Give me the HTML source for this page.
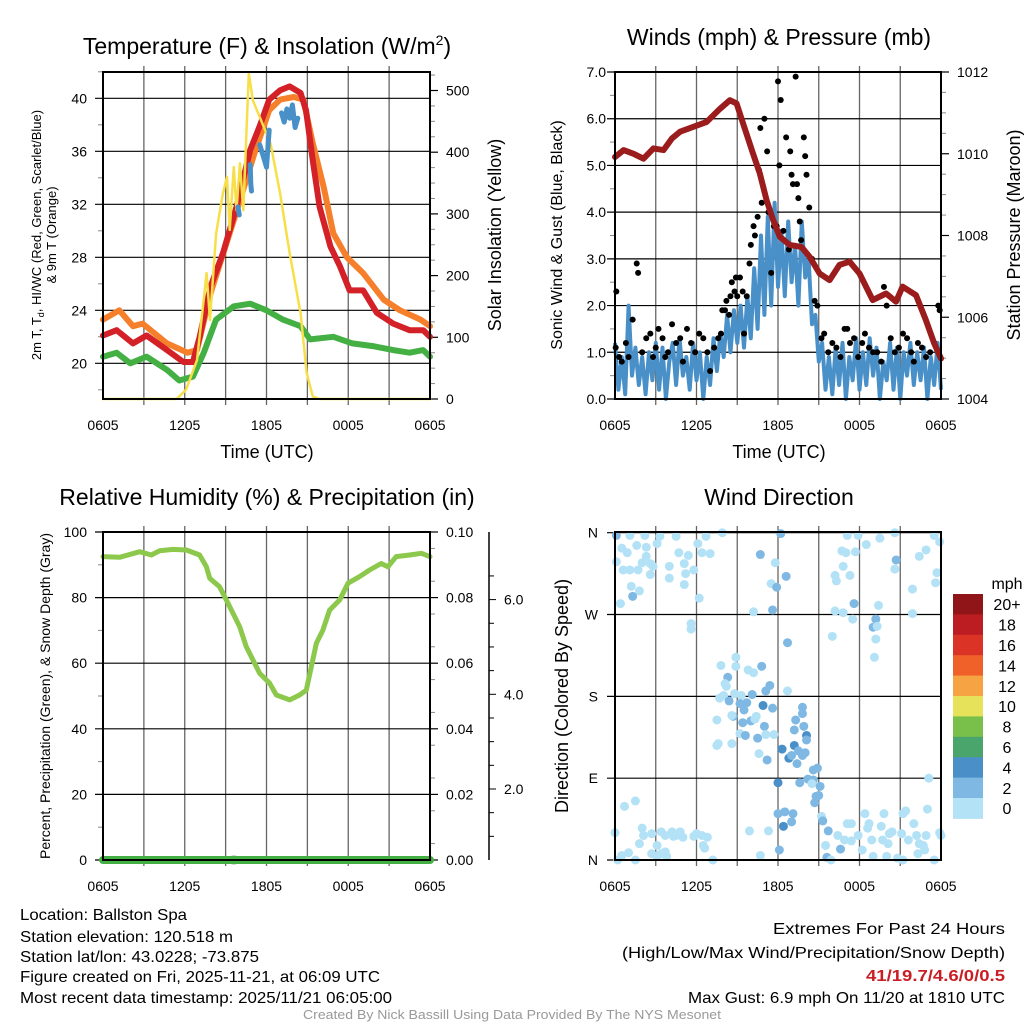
<!DOCTYPE html>
<html><head><meta charset="utf-8"><style>
html,body{margin:0;padding:0;background:#fff;}
svg{display:block;font-family:"Liberation Sans",sans-serif;}
</style></head><body>
<svg id="chart" width="1024" height="1024" viewBox="0 0 1024 1024" xmlns="http://www.w3.org/2000/svg">
<rect width="1024" height="1024" fill="#fff"/>
<g id="layer"></g>
<text x="267" y="54" font-size="23" text-anchor="middle">Temperature (F) &amp; Insolation (W/m<tspan font-size="14" dy="-9">2</tspan><tspan dy="9">)</tspan></text>
<text x="779" y="45" font-size="23" text-anchor="middle">Winds (mph) &amp; Pressure (mb)</text>
<text x="267" y="505" font-size="23" text-anchor="middle">Relative Humidity (%) &amp; Precipitation (in)</text>
<text x="779" y="505" font-size="23" text-anchor="middle">Wind Direction</text>
<text x="267" y="458" font-size="18" text-anchor="middle">Time (UTC)</text>
<text x="779" y="458" font-size="18" text-anchor="middle">Time (UTC)</text>
<text transform="translate(41,235) rotate(-90)" font-size="13" text-anchor="middle">2m T, T<tspan font-size="9" dy="3">d</tspan><tspan dy="-3">, HI/WC (Red, Green, Scarlet/Blue)</tspan></text>
<text transform="translate(56,235) rotate(-90)" font-size="13" text-anchor="middle">&amp; 9m T (Orange)</text>
<text transform="translate(501,235) rotate(-90)" font-size="18" text-anchor="middle">Solar Insolation (Yellow)</text>
<text transform="translate(562,235) rotate(-90)" font-size="16" text-anchor="middle">Sonic Wind &amp; Gust (Blue, Black)</text>
<text transform="translate(1020,235) rotate(-90)" font-size="18" text-anchor="middle">Station Pressure (Maroon)</text>
<text transform="translate(50,696) rotate(-90)" font-size="14" text-anchor="middle">Percent, Precipitation (Green), &amp; Snow Depth (Gray)</text>
<text transform="translate(568,696) rotate(-90)" font-size="18" text-anchor="middle">Direction (Colored By Speed)</text>
<g font-size="16">
<text x="20" y="920" textLength="167" lengthAdjust="spacingAndGlyphs">Location: Ballston Spa</text>
<text x="20" y="942" textLength="213" lengthAdjust="spacingAndGlyphs">Station elevation: 120.518 m</text>
<text x="20" y="962" textLength="239" lengthAdjust="spacingAndGlyphs">Station lat/lon: 43.0228; -73.875</text>
<text x="20" y="982" textLength="360" lengthAdjust="spacingAndGlyphs">Figure created on Fri, 2025-11-21, at 06:09 UTC</text>
<text x="20" y="1003" textLength="372" lengthAdjust="spacingAndGlyphs">Most recent data timestamp: 2025/11/21 06:05:00</text>
</g>
<g font-size="16">
<text x="773" y="934" textLength="232" lengthAdjust="spacingAndGlyphs">Extremes For Past 24 Hours</text>
<text x="622" y="958" textLength="383" lengthAdjust="spacingAndGlyphs">(High/Low/Max Wind/Precipitation/Snow Depth)</text>
<text x="866" y="981" textLength="139" lengthAdjust="spacingAndGlyphs" fill="#c81e24" font-weight="bold">41/19.7/4.6/0/0.5</text>
<text x="688" y="1003" textLength="317" lengthAdjust="spacingAndGlyphs">Max Gust: 6.9 mph On 11/20 at 1810 UTC</text>
</g>
<text x="303" y="1019" font-size="13" textLength="418" lengthAdjust="spacingAndGlyphs" fill="#999">Created By Nick Bassill Using Data Provided By The NYS Mesonet</text>
</svg>
<script>
// ---- Temperature panel data (hours since 0605 UTC) ----
const redT=[0,1.0,2.2,3.2,4.7,5.9,6.6,7.1,7.9,8.8,9.8,10.8,11.5,12.2,13.0,13.7,14.5,14.9,15.4,15.9,16.7,17.4,18.1,19.1,20.1,21.3,22.5,23.5,24];
const redV=[22.1,22.5,21.5,22.1,21.0,20.1,20.1,22.0,25.8,28.3,31.8,36.1,37.9,39.9,40.6,40.9,40.4,39.1,35.3,31.8,28.8,27.3,25.5,25.5,23.8,23.0,22.5,22.5,22.0];
const orgT=[0,1.2,2.2,2.9,4.7,6.2,6.9,7.9,9.6,11.1,12.2,13.0,14.0,14.7,15.4,16.2,16.9,17.9,19.1,20.6,21.8,23.3,24];
const orgV=[23.3,24.0,22.8,23.0,21.5,20.8,21.0,25.3,30.8,35.8,39.1,39.9,40.1,39.9,36.6,33.3,29.8,28.0,26.8,24.8,24.0,23.3,22.8];
const grnT=[0,1,2,3.2,4.7,5.6,6.6,7.4,8.3,9.6,10.8,12.0,13.2,14.5,15.2,16.9,18.3,19.8,21.3,22.5,23.5,24];
const grnV=[20.5,20.8,20.0,20.5,19.5,18.7,19.0,20.8,23.3,24.3,24.5,24.0,23.3,22.8,21.8,22.0,21.5,21.3,21.0,20.8,21.0,20.5];
const wcT=[9.9,10.0,null,10.8,10.85,10.9,null,11.5,11.8,12.0,12.2,null,13.1,13.3,13.5,13.7,13.9,14.1,14.3];
const wcV=[31.8,31.2,null,35.0,33.5,33.0,null,36.5,35.5,34.8,37.6,null,38.9,38.2,39.2,38.5,39.5,37.8,38.5];
const solT=[0,5.4,6.1,6.9,7.6,7.85,8.3,8.8,9.1,9.3,9.6,9.8,10.05,10.3,10.7,11.0,11.5,12.3,13.0,13.7,14.5,14.95,15.4,15.9,24];
const solV=[0,0,15,63,204,128,268,333,360,274,376,306,382,306,528,484,457,414,333,236,139,42,4,0,0];
const tempTicks=[20,24,28,32,36,40];
const solTicks=[0,100,200,300,400,500];
const timeLabels=["0605","1205","1805","0005","0605"];
// ---- Wind panel data ----
const presT=[0,0.63,1.37,2.1,2.83,3.57,4.18,4.79,5.77,6.75,7.73,8.46,8.95,9.43,10.17,10.66,11.15,11.64,12.13,12.86,13.72,14.33,15.06,15.8,16.53,17.27,18.0,18.97,19.96,20.69,21.17,22.16,22.89,23.5,24];
const presV=[1009.92,1010.09,1010.0,1009.88,1010.13,1010.09,1010.37,1010.54,1010.66,1010.78,1011.1,1011.31,1011.23,1010.74,1010.0,1009.52,1008.87,1008.38,1007.97,1007.77,1007.72,1007.48,1007.07,1006.91,1007.28,1007.36,1007.07,1006.42,1006.58,1006.38,1006.75,1006.54,1005.93,1005.36,1004.99];
const windStep=0.25;
const windV=[1.2,0.2,0.9,0.1,2.0,0.5,1.1,0.3,0.9, 0.1,1.0,0.4,1.2,0.2,1.1,0.0,0.8, 1.2,0.3,1.3,0.5,0.9,0.2,1.2,0.4, 1.0,0.0,0.9,0.3,1.3,0.6,1.4,0.9, 1.8,1.0,1.9,1.2,2.0,1.1,2.2,1.3, 2.8,1.5,3.5,1.8,3.9,2.0,4.2,2.4, 3.6,2.2,3.8,2.5,3.3,2.0,3.8,2.6, 3.0,1.6,1.8,0.8,1.2,0.2,0.9,0.1, 1.1,0.3,1.2,0.0,0.9,0.4,1.3,0.2, 1.0,0.3,1.3,0.5,1.1,0.0,0.8,0.4, 1.2,0.2,1.1,0.0,1.0,0.5,1.2,0.3, 1.0,0.4,1.1,0.0,0.9,0.3,1.2,0.2];
const gustT=[0.05,0.1,0.3,0.5,0.8,1.0,1.3,1.6,1.7,2.0,2.3,2.6,2.8,3.0,3.2,3.5,3.7,3.9,4.2,4.5,4.8,5.0,5.3,5.6,5.9,6.2,6.5,6.8,7.0,7.3,7.6,7.8,7.9,8.1,8.2,8.4,8.5,8.6,8.8,8.9,9.0,9.2,9.4,9.5,9.7,9.9,10.0,10.2,10.3,10.5,10.6,10.7,10.8,11.0,11.2,11.3,11.5,11.7,11.9,12.0,12.1,12.2,12.4,12.6,12.8,12.9,13.0,13.1,13.3,13.4,13.5,13.6,13.7,13.9,14.0,14.1,14.3,14.5,14.7,14.9,15.2,15.4,15.7,16.0,16.3,16.6,16.9,17.1,17.3,17.6,17.9,18.2,18.4,18.7,19.0,19.3,19.6,19.8,20.0,20.3,20.6,20.9,21.2,21.5,21.8,22.0,22.3,22.6,22.9,23.2,23.5,23.8,23.9];
const gustV=[1.1,2.3,0.9,0.8,1.2,0.9,1.7,2.9,2.7,1.0,1.3,1.4,0.9,1.1,1.5,1.3,0.9,1.0,1.6,1.2,1.3,0.8,1.5,1.2,1.0,1.4,1.3,1.0,0.6,1.1,1.3,1.4,1.9,1.9,2.1,1.8,2.2,2.5,2.3,2.6,2.2,2.6,2.3,1.4,2.2,2.9,3.3,3.7,3.5,3.9,4.9,5.8,4.2,6.0,5.3,4.0,2.7,3.7,3.7,6.8,5.0,6.4,3.6,5.6,3.2,5.3,4.8,4.6,6.9,4.6,4.3,3.8,3.4,5.6,5.2,4.8,4.1,3.0,2.1,2.0,1.3,1.4,1.0,1.2,1.1,0.9,1.5,1.5,1.2,1.3,0.9,1.2,1.4,1.1,1.0,1.0,0.8,2.4,2.0,1.3,1.0,1.1,1.4,1.3,1.0,0.8,1.2,1.1,0.9,1.0,1.2,2.0,1.9];
const windTicks=[0,1,2,3,4,5,6,7];
const presTicks=[1004,1006,1008,1010,1012];
// ---- Humidity panel data ----
const rhT=[0,1.22,2.69,3.55,4.16,5.14,6.12,7.09,7.59,7.83,8.56,9.05,9.54,10.03,10.52,11.0,11.5,12.23,12.72,13.7,14.43,14.92,15.29,15.66,16.14,16.63,17.37,17.98,18.83,19.57,20.42,20.91,21.52,22.5,23.36,24];
const rhV=[92.5,92.3,94.0,93.0,94.3,94.7,94.5,93.0,89.4,85.9,83.3,79.3,75.2,71.1,65.0,61.0,56.9,53.9,50.3,48.8,50.3,51.8,58.9,66.1,70.1,76.2,79.3,84.4,86.4,88.4,90.4,89.4,92.5,93.0,93.5,92.5];
const precipT=[0,24];
const precipV=[0,0];
const snowT=[9.6];
const snowV=[0];
const rhTicks=[0,20,40,60,80,100];
const precipTicks=["0.00","0.02","0.04","0.06","0.08","0.10"];
const snowTicks=[2,4,6];
// ---- Wind direction data ----
const dirT=[0.1,1.1,2.2,3.3,4.5,6.7,7.9,12.2,17.1,17.9,19.5,20.6,23.5,23.9,0.1,0.5,0.9,1.6,2.3,3.1,4.7,5.4,6.1,6.4,7.0,0.6,1.1,1.7,2.0,2.6,2.8,2.3,2.6,4.0,4.0,5.1,5.2,5.8,5.1,6.2,1.2,1.8,1.3,0.4,5.6,5.6,10.7,11.8,12.6,11.5,11.9,11.6,10.2,12.7,16.7,17.0,17.7,18.5,16.8,16.2,16.3,17.3,20.7,20.6,22.4,22.9,23.7,23.6,21.9,17.6,16.2,16.8,19.4,21.9,17.5,19.2,19.0,19.3,19.2,19.1,16.0,
7.8,8.9,8.9,8.3,8.1,8.2,9.8,10.2,10.8,11.4,11.1,12.7,7.7,8.0,8.8,9.3,8.4,9.2,9.7,10.1,10.9,11.6,9.5,8.7,8.6,7.5,10.4,9.4,10.0,11.0,10.3,9.2,9.6,10.5,11.1,11.7,7.6,7.5,8.6,10.6,11.2,12.3,13.2,12.8,13.0,13.5,13.8,14.0,13.4,13.2,13.3,13.8,13.8,13.9,14.1,14.1,14.6,14.9,14.2,14.6,14.5,13.6,12.0,15.1,14.8,15.0,14.7,
1.5,0.7,0,2.0,2.1,1.8,2.7,3.1,3.4,3.7,4.2,4.3,4.5,4.8,5.0,5.8,6.0,6.4,6.8,6.5,6.6,2.7,3.4,3.7,3.8,1.0,0.5,0.2,1.5,3.1,7.2,9.9,10.7,11.3,12.0,12.5,13.1,12.4,13.0,12.1,15.2,15.3,15.7,15.5,15.6,15.9,16.4,16.6,16.9,17.4,17.1,17.4,17.9,18.2,18.4,18.7,18.9,18.6,19.6,19.8,19.7,20.1,20.2,20.4,21.1,21.2,21.4,21.6,22.0,22.2,22.4,22.7,22.9,23.0,23.1,22.8,24.0,23.9,20.0,20.8,21.2,23.5,22.3,19.0];
const dirDeg=[357,357,357,356,356,356,360,359,357,357,354,360,357,350,328,343,338,346,344,348,338,335,348,338,337,319,319,319,327,326,323,334,314,310,323,326,315,319,303,288,301,296,290,282,260,254,336,327,312,304,300,275,273,239,340,338,339,347,323,313,307,313,330,320,334,341,316,305,298,282,274,272,280,271,265,265,256,257,243,223,246,
214,223,213,201,194,191,209,206,213,192,186,186,178,181,183,181,175,172,173,182,170,167,165,158,159,154,158,151,153,147,155,139,137,134,138,138,128,126,128,117,110,122,126,112,115,120,115,118,106,143,154,161,168,147,137,132,99,101,89,88,84,85,85,81,70,71,63,
65,59,30,35,27,18,29,16,31,27,31,26,27,31,25,26,29,27,25,16,13,7,7,9,4,8,5,0,0,4,0,32,5,32,51,53,51,37,42,11,48,43,32,16,3,0,27,12,22,21,40,40,27,11,51,40,22,35,37,51,22,18,29,31,29,51,54,22,40,27,18,16,27,56,90,11,27,30,4,2,0,0,7,4];
const dirSpd=[3,1,1,1,1,1,1,3,1,1,1,1,1,1,1,1,1,1,1,1,1,1,1,1,1,1,1,1,1,1,1,1,1,1,1,1,1,1,1,1,1,1,3,1,1,1,3,1,3,1,3,3,1,3,1,1,1,1,1,1,1,1,3,1,1,1,1,1,1,3,1,1,1,1,1,3,3,1,1,1,1,
1,1,1,3,1,1,1,1,3,3,3,1,1,1,1,1,3,3,3,3,4.5,3,3,3,1,1,1,3,3,3,1,1,3,3,1,1,1,1,1,1,3,4.5,4.5,4.5,3,3,3,3,3,3,3,3,3,3,4.5,3,3,3,3,3,1,3,4.5,3,3,3,3,
1,1,1,1,1,1,1,1,1,1,1,1,1,1,1,1,1,1,1,1,1,1,1,1,1,1,1,1,1,1,1,1,1,1,3,3,3,4.5,3,3,1,3,3,1,3,1,1,3,1,1,1,1,1,1,1,1,1,1,1,1,1,1,1,1,1,1,1,1,1,1,1,1,1,1,1,1,1,1,1,1,1,1,1,1];
const dirTicks=["N","E","S","W","N"];
const cbLabels=["20+","18","16","14","12","10","8","6","4","2","0"];
const cbColors=["#8f1518","#bb1d23","#dc3327","#f0612a","#f6a443","#e6e25a","#79c04b","#4aa56d","#4a8fc7","#7fb9e3","#b3e2f7"];

const NS="http://www.w3.org/2000/svg";
const layer=document.getElementById('layer');
function mk(tag,attrs,parent){const e=document.createElementNS(NS,tag);for(const k in attrs)e.setAttribute(k,attrs[k]);(parent||layer).appendChild(e);return e;}
function linScale(d0,d1,r0,r1){return v=>r0+(v-d0)*(r1-r0)/(d1-d0);}
function pathFrom(ts,vs,xf,yf){let d="",pen=false;for(let i=0;i<ts.length;i++){if(ts[i]===null||vs[i]===null){pen=false;continue;}d+=(pen?"L":"M")+xf(ts[i]).toFixed(1)+" "+yf(vs[i]).toFixed(1);pen=true;}return d;}

function panel(L,R,T,B,name){
  const g=mk('g',{});
  
  
  const xf=linScale(0,24,L,R);
  for(let h=3;h<24;h+=3){const l=mk('line',{x1:xf(h),x2:xf(h),y1:T-6,y2:B+6,stroke:'#666','stroke-width':1.3},g);
    
    }
  for(let i=0;i<timeLabels.length;i++){const t=mk('text',{x:xf(i*6),y:B+31,'font-size':14,'text-anchor':'middle'},g);t.textContent=timeLabels[i];
    
    }
  return {g,xf};
}
function frame(L,R,T,B,g){const r=mk('rect',{x:L,y:T,width:R-L,height:B-T,fill:'none',stroke:'#000','stroke-width':2},g);
  
  }
function hgrid(g,ys,L,R,labels,lx,anchor,name){
  ys.forEach((y,i)=>{const l=mk('line',{x1:L-8,x2:R,y1:y,y2:y,stroke:'#000','stroke-width':1.2},g);
    
    
    if(labels){const t=mk('text',{x:lx,y:y+5,'font-size':14,'text-anchor':anchor},g);t.textContent=labels[i];
      
      }});
}
function rticks(g,ys,R,labels,name,minor){
  ys.forEach((y,i)=>{mk('line',{x1:R,x2:R+8,y1:y,y2:y,stroke:'#000','stroke-width':1.2},g);
    const t=mk('text',{x:R+16,y:y+5,'font-size':14},g);t.textContent=labels[i];
    
    });
  (minor||[]).forEach(y=>mk('line',{x1:R,x2:R+5,y1:y,y2:y,stroke:'#888','stroke-width':1},g));
}

// ===== Panel 1: Temperature =====
{const L=103,R=430,T=72,B=399;const {g,xf}=panel(L,R,T,B,'temperature');
 const yT=linScale(40,20,98.3,363.3), yS=linScale(0,500,399,90.5);
 hgrid(g,tempTicks.map(yT),L,R,tempTicks,87,'end','temperature');
 for(let v=18;v<=42;v+=2){if(v%4)mk('line',{x1:L-5,x2:L,y1:yT(v),y2:yT(v),stroke:'#888'},g);}
 const minor=[];for(let v=25;v<530;v+=25){if(v%100)minor.push(yS(v));}
 rticks(g,solTicks.map(yS),R,solTicks,'solar',minor);
 const s=[[solT,solV,yS,'#f7df4a',2.5,'solar-insolation-line'],[grnT,grnV,yT,'#44b044',6,'dewpoint-line'],[orgT,orgV,yT,'#f57f2a',6,'temp-9m-line'],[redT,redV,yT,'#d42027',6,'temp-2m-line'],[wcT,wcV,yT,'#4a90c8',5,'wind-chill-line']];
 const order=[1,2,3,0,4];
 order.forEach(i=>{const [ts,vs,yf,c,w,n]=s[i];const p=mk('path',{d:pathFrom(ts,vs,xf,yf),fill:'none',stroke:c,'stroke-width':w,'stroke-linejoin':'round','stroke-linecap':'round'},g);
   
   });
 frame(L,R,T,B,g);}

// ===== Panel 2: Winds =====
{const L=615,R=941,T=72,B=399;const {g,xf}=panel(L,R,T,B,'winds');
 const yW=linScale(0,7,399,72), yP=linScale(1004,1012,399,72);
 hgrid(g,windTicks.map(yW),L,R,windTicks.map(v=>v.toFixed(1)),606,'end','wind');
 for(let v=0.5;v<7;v+=1)mk('line',{x1:L-5,x2:L,y1:yW(v),y2:yW(v),stroke:'#888'},g);
 const minor=[];for(let v=1004.5;v<1012;v+=0.5){if(v%2)minor.push(yP(v));}
 rticks(g,presTicks.map(yP),R,presTicks,'pressure',minor);
 const wt=windV.map((v,i)=>i*windStep);
 const wp=mk('path',{d:pathFrom(wt,windV,xf,yW),fill:'none',stroke:'#4a90c8','stroke-width':4,'stroke-linejoin':'round'},g);
 
 
 gustT.forEach((t,i)=>{const c=mk('circle',{cx:xf(t),cy:yW(gustV[i]),r:3,fill:'#000'},g);
   
   });
 const pp=mk('path',{d:pathFrom(presT,presV,xf,yP),fill:'none',stroke:'#9b1c1c','stroke-width':6,'stroke-linejoin':'round','stroke-linecap':'round'},g);
 
 
 frame(L,R,T,B,g);}

// ===== Panel 3: Humidity =====
{const L=103,R=430,T=532,B=860;const {g,xf}=panel(L,R,T,B,'humidity');
 const yR=linScale(0,100,860,532), yPr=linScale(0,0.1,860,532), ySn=linScale(0,2,883.7,789);
 hgrid(g,rhTicks.map(yR),L,R,rhTicks,87,'end','humidity');
 for(let v=10;v<100;v+=20)mk('line',{x1:L-5,x2:L,y1:yR(v),y2:yR(v),stroke:'#888'},g);
 const minor=[];for(let v=0.005;v<0.1;v+=0.01)minor.push(yPr(v));
 rticks(g,precipTicks.map(v=>yPr(+v)),R,precipTicks,'precip',minor);
 const ax=mk('line',{x1:489,x2:489,y1:532,y2:860,stroke:'#000','stroke-width':1.5},g);
 
 
 for(let v=0.5;v<=6.9;v+=0.5){const y=ySn(v);if(y<532||y>860)continue;mk('line',{x1:489,x2:(v%2===0)?496:494,y1:y,y2:y,stroke:'#000','stroke-width':1},g);}
 snowTicks.forEach(v=>{const t=mk('text',{x:504,y:ySn(v)+5,'font-size':14},g);t.textContent=v.toFixed(1);
   
   });
 snowT.forEach((t,i)=>{const c=mk('circle',{cx:xf(t),cy:yPr(snowV[i]),r:5,fill:'#ccc'},g);
   
   });
 const pr=mk('path',{d:pathFrom(precipT,precipV,xf,yPr),fill:'none',stroke:'#44b044','stroke-width':8,'stroke-linecap':'round'},g);
 
 
 const rh=mk('path',{d:pathFrom(rhT,rhV,xf,yR),fill:'none',stroke:'#8cc84b','stroke-width':5,'stroke-linejoin':'round','stroke-linecap':'round'},g);
 
 
 frame(L,R,T,B,g);}

// ===== Panel 4: Wind direction =====
{const L=615,R=941,T=532,B=860;const {g,xf}=panel(L,R,T,B,'direction');
 const yD=linScale(0,360,860,532.7);
 hgrid(g,[0,90,180,270,360].map(yD),L,R,dirTicks,598,'end','direction');
 function col(s){const idx=10-Math.min(10,Math.floor(s/2));return cbColors[idx];}
 dirT.forEach((t,i)=>{const c=mk('circle',{cx:xf(t),cy:yD(dirDeg[i]),r:4.5,fill:col(dirSpd[i])},g);
   
   });
 frame(L,R,T,B,g);
 const cb=mk('g',{});
 
 
 const bh=20.4;
 cbColors.forEach((c,i)=>{mk('rect',{x:953,y:594+i*bh,width:30,height:bh+0.5,fill:c},cb);
   const t=mk('text',{x:1007,y:594+i*bh+bh/2+6,'font-size':16,'text-anchor':'middle'},cb);t.textContent=cbLabels[i];
   
   });
 const u=mk('text',{x:1007,y:589,'font-size':16,'text-anchor':'middle'},cb);u.textContent='mph';
 
 }
</script>
</body></html>
